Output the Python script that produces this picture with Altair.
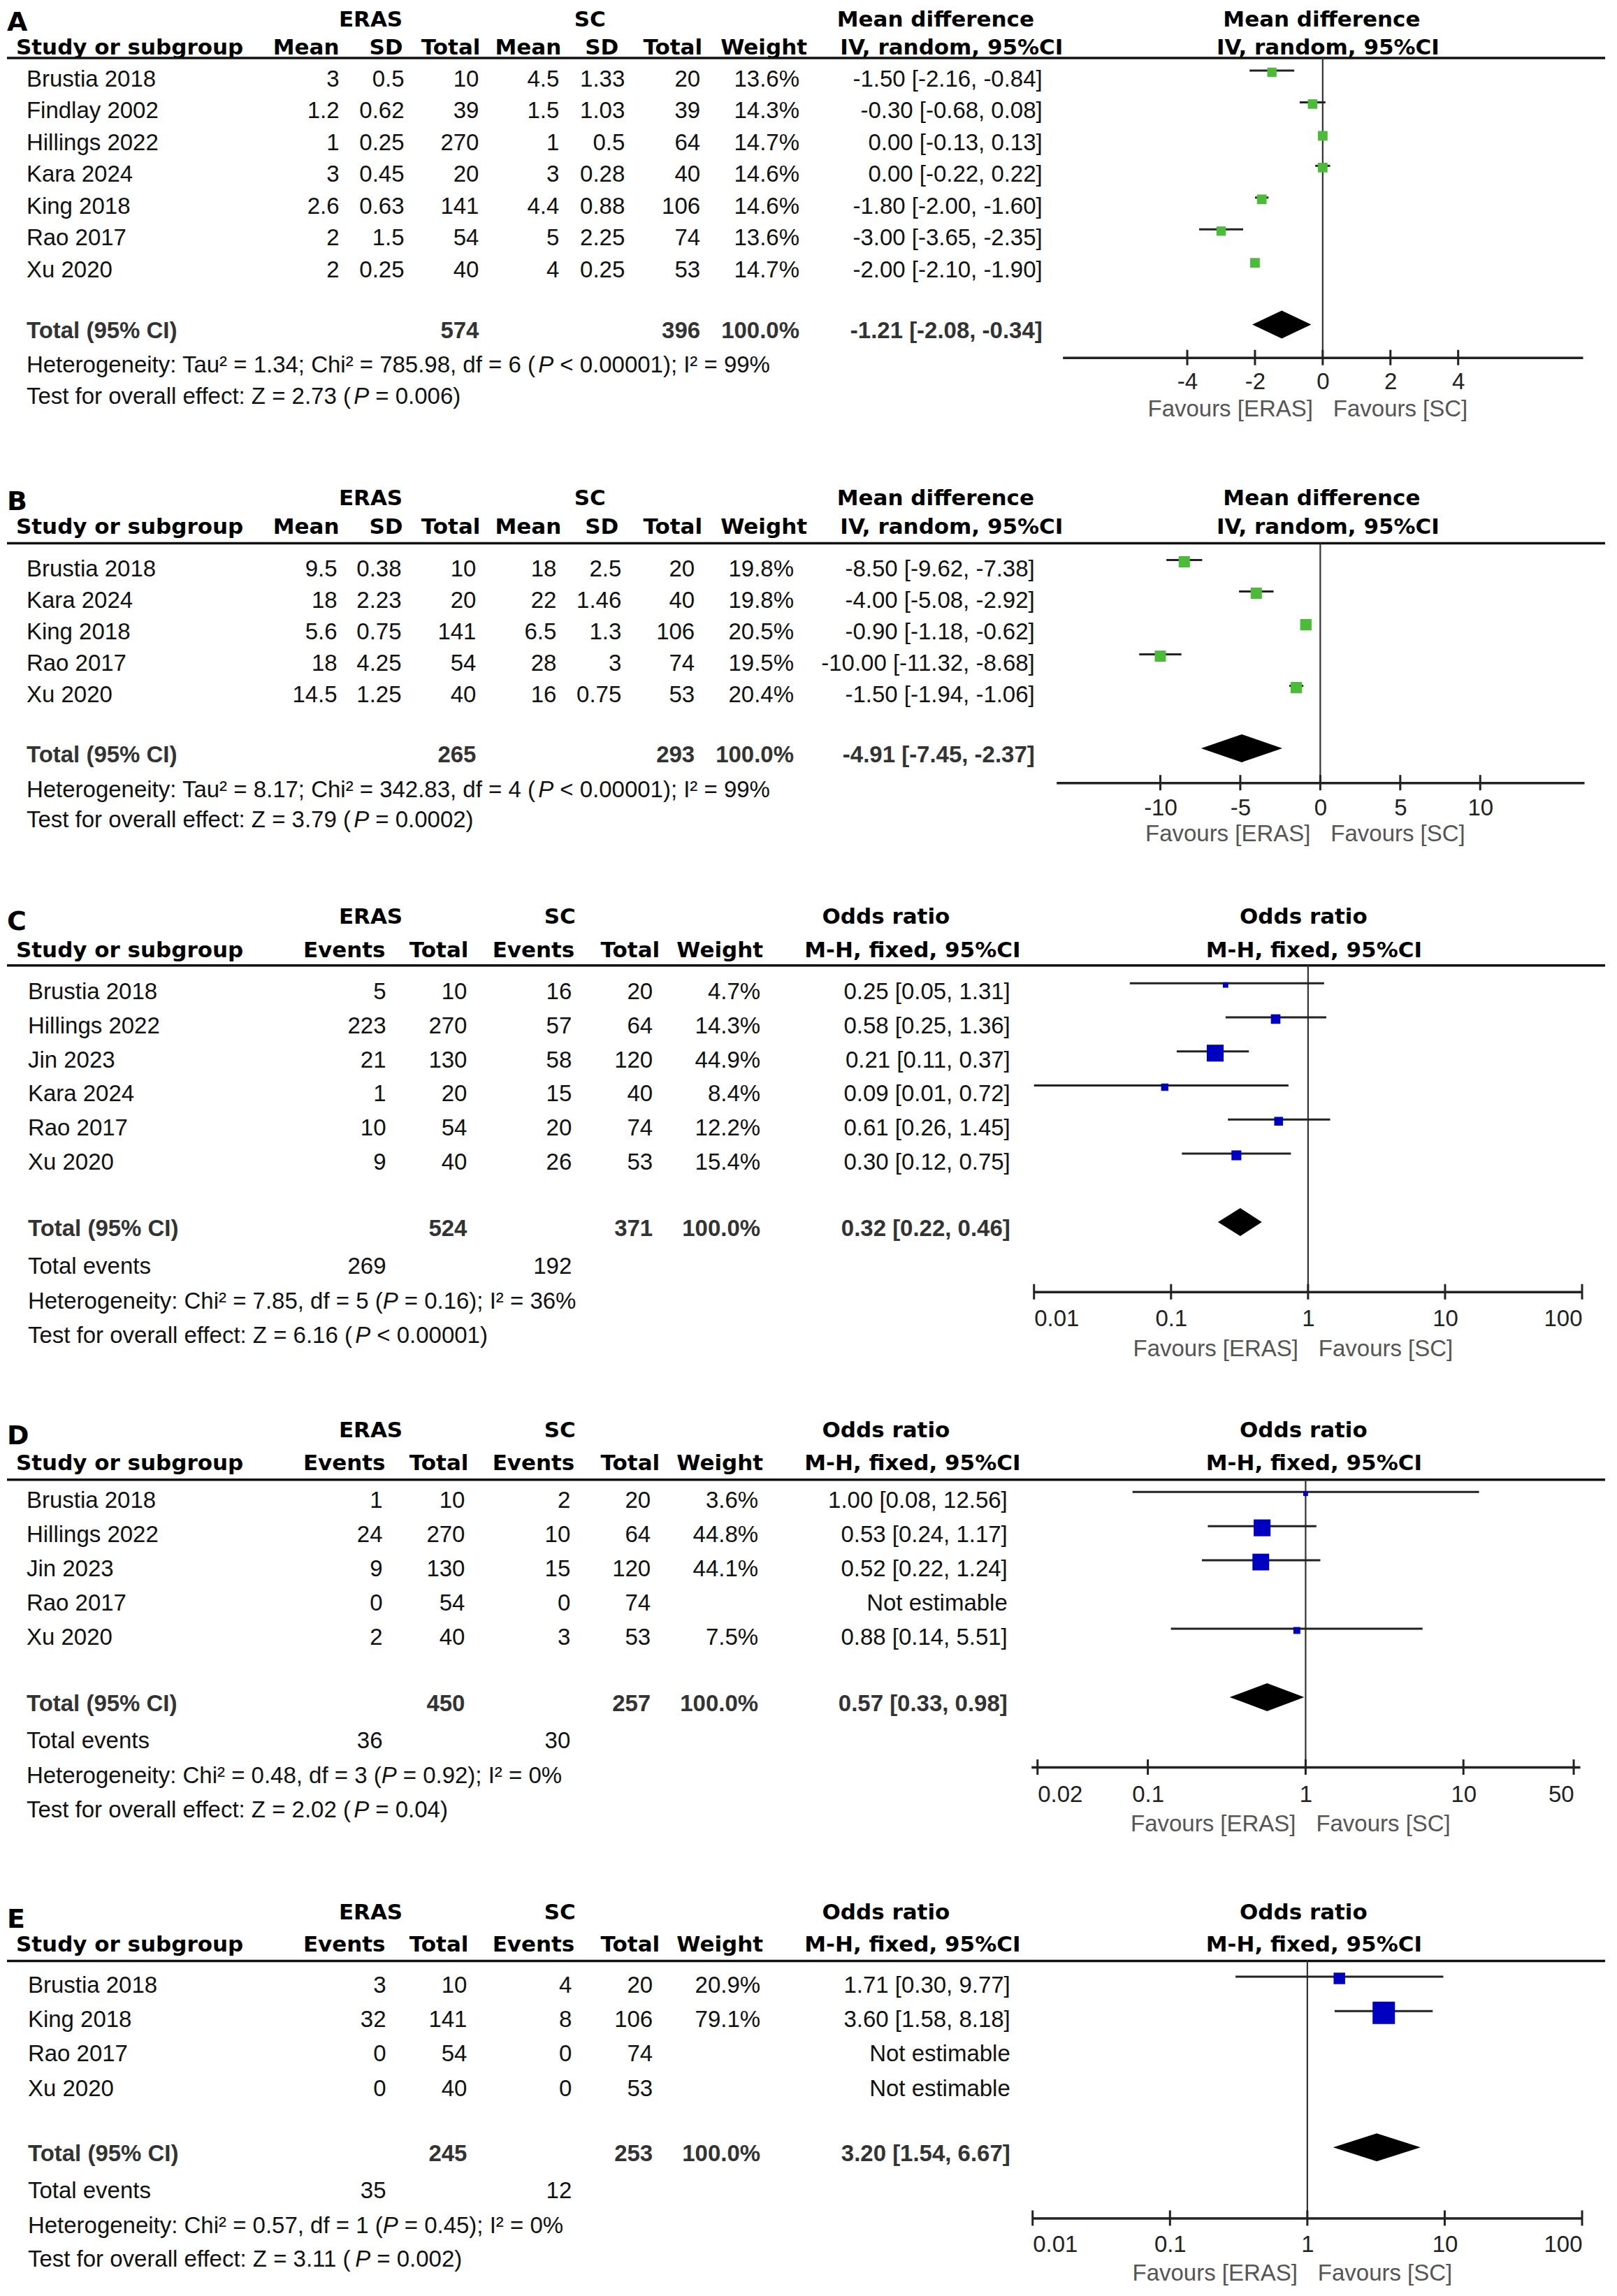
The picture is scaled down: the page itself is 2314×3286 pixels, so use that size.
import altair as alt
import pandas as pd

# ======================= DATA =======================
# ---- A: mean difference ----
A_study = ["Brustia 2018", "Findlay 2002", "Hillings 2022", "Kara 2024", "King 2018", "Rao 2017", "Xu 2020"]
A_eras_mean = [3, 1.2, 1, 3, 2.6, 2, 2]
A_eras_sd = [0.5, 0.62, 0.25, 0.45, 0.63, 1.5, 0.25]
A_eras_n = [10, 39, 270, 20, 141, 54, 40]
A_sc_mean = [4.5, 1.5, 1, 3, 4.4, 5, 4]
A_sc_sd = [1.33, 1.03, 0.5, 0.28, 0.88, 2.25, 0.25]
A_sc_n = [20, 39, 64, 40, 106, 74, 53]
A_weight = [13.6, 14.3, 14.7, 14.6, 14.6, 13.6, 14.7]
A_est = [-1.50, -0.30, 0.00, 0.00, -1.80, -3.00, -2.00]
A_lo = [-2.16, -0.68, -0.13, -0.22, -2.00, -3.65, -2.10]
A_hi = [-0.84, 0.08, 0.13, 0.22, -1.60, -2.35, -1.90]
A_totals = [574, 396]
A_pooled = [-1.21, -2.08, -0.34]
A_het = "Heterogeneity: Tau² = 1.34; Chi² = 785.98, df = 6 (P < 0.00001); I² = 99%"
A_test = "Test for overall effect: Z = 2.73 (P = 0.006)"
A_ticks = [-4, -2, 0, 2, 4]

# ---- B: mean difference ----
B_study = ["Brustia 2018", "Kara 2024", "King 2018", "Rao 2017", "Xu 2020"]
B_eras_mean = [9.5, 18, 5.6, 18, 14.5]
B_eras_sd = [0.38, 2.23, 0.75, 4.25, 1.25]
B_eras_n = [10, 20, 141, 54, 40]
B_sc_mean = [18, 22, 6.5, 28, 16]
B_sc_sd = [2.5, 1.46, 1.3, 3, 0.75]
B_sc_n = [20, 40, 106, 74, 53]
B_weight = [19.8, 19.8, 20.5, 19.5, 20.4]
B_est = [-8.50, -4.00, -0.90, -10.00, -1.50]
B_lo = [-9.62, -5.08, -1.18, -11.32, -1.94]
B_hi = [-7.38, -2.92, -0.62, -8.68, -1.06]
B_totals = [265, 293]
B_pooled = [-4.91, -7.45, -2.37]
B_het = "Heterogeneity: Tau² = 8.17; Chi² = 342.83, df = 4 (P < 0.00001); I² = 99%"
B_test = "Test for overall effect: Z = 3.79 (P = 0.0002)"
B_ticks = [-10, -5, 0, 5, 10]

# ---- C: odds ratio ----
C_study = ["Brustia 2018", "Hillings 2022", "Jin 2023", "Kara 2024", "Rao 2017", "Xu 2020"]
C_eras_ev = [5, 223, 21, 1, 10, 9]
C_eras_n = [10, 270, 130, 20, 54, 40]
C_sc_ev = [16, 57, 58, 15, 20, 26]
C_sc_n = [20, 64, 120, 40, 74, 53]
C_weight = [4.7, 14.3, 44.9, 8.4, 12.2, 15.4]
C_est = [0.25, 0.58, 0.21, 0.09, 0.61, 0.30]
C_lo = [0.05, 0.25, 0.11, 0.01, 0.26, 0.12]
C_hi = [1.31, 1.36, 0.37, 0.72, 1.45, 0.75]
C_totals = [524, 371]
C_events = [269, 192]
C_pooled = [0.32, 0.22, 0.46]
C_het = "Heterogeneity: Chi² = 7.85, df = 5 (P = 0.16); I² = 36%"
C_test = "Test for overall effect: Z = 6.16 (P < 0.00001)"
C_ticks = [0.01, 0.1, 1, 10, 100]

# ---- D: odds ratio ----
D_study = ["Brustia 2018", "Hillings 2022", "Jin 2023", "Rao 2017", "Xu 2020"]
D_eras_ev = [1, 24, 9, 0, 2]
D_eras_n = [10, 270, 130, 54, 40]
D_sc_ev = [2, 10, 15, 0, 3]
D_sc_n = [20, 64, 120, 74, 53]
D_weight = [3.6, 44.8, 44.1, None, 7.5]
D_est = [1.00, 0.53, 0.52, None, 0.88]
D_lo = [0.08, 0.24, 0.22, None, 0.14]
D_hi = [12.56, 1.17, 1.24, None, 5.51]
D_totals = [450, 257]
D_events = [36, 30]
D_pooled = [0.57, 0.33, 0.98]
D_het = "Heterogeneity: Chi² = 0.48, df = 3 (P = 0.92); I² = 0%"
D_test = "Test for overall effect: Z = 2.02 (P = 0.04)"
D_ticks = [0.02, 0.1, 1, 10, 50]

# ---- E: odds ratio ----
E_study = ["Brustia 2018", "King 2018", "Rao 2017", "Xu 2020"]
E_eras_ev = [3, 32, 0, 0]
E_eras_n = [10, 141, 54, 40]
E_sc_ev = [4, 8, 0, 0]
E_sc_n = [20, 106, 74, 53]
E_weight = [20.9, 79.1, None, None]
E_est = [1.71, 3.60, None, None]
E_lo = [0.30, 1.58, None, None]
E_hi = [9.77, 8.18, None, None]
E_totals = [245, 253]
E_events = [35, 12]
E_pooled = [3.20, 1.54, 6.67]
E_het = "Heterogeneity: Chi² = 0.57, df = 1 (P = 0.45); I² = 0%"
E_test = "Test for overall effect: Z = 3.11 (P = 0.002)"
E_ticks = [0.01, 0.1, 1, 10, 100]

# ======================= STYLE =======================
BODY = "Liberation Sans"
HEAD = "DejaVu Sans"
FS = 33
HFS = 31
LFS = 38
INK = "#111111"
TOT_INK = "#333333"
FAV_INK = "#555555"
GREEN = "#4dbb3a"
BLUE = "#0000c0"
W = 2298

_W = {" ": 278, "(": 333, ")": 333, ",": 278, "-": 333, ".": 278, ":": 278, ";": 278,
      "<": 584, "=": 584, ">": 584, "%": 889, "²": 333, "[": 278, "]": 278}
for _d in "0123456789":
    _W[_d] = 556
_W.update(dict(zip("ABCDEFGHIJKLMNOPQRSTUVWXYZ",
                   [667, 667, 722, 722, 667, 611, 778, 722, 278, 500, 667, 556, 833, 722, 778, 667,
                    778, 722, 667, 611, 722, 667, 944, 667, 667, 611])))
_W.update(dict(zip("abcdefghijklmnopqrstuvwxyz",
                   [556, 556, 500, 556, 556, 278, 556, 556, 222, 222, 500, 222, 833, 556, 556, 556,
                    556, 333, 500, 278, 556, 500, 722, 500, 500, 500])))


def tw(s, size=FS):
    return sum(_W.get(c, 556) for c in s) * size / 1000.0


def g(v):
    return "" if v is None else f"{v:g}"


def wfmt(v):
    return "" if v is None else f"{v:.1f}%"


def cifmt(e, l, h):
    if e is None:
        return "Not estimable"
    return f"{e:.2f} [{l:.2f}, {h:.2f}]"


# layout (chart pixels; rows in row units)
LAYOUT = {
    "A": dict(top=8, h=632, row0=112.6, pitch=45.5,
              u=dict(letter=-1.79, h1=-1.86, h2=-0.98, line=-0.68, total=7.93, het=9.0, test=9.99,
                     axis=8.75, fav=10.38),
              label_x=28, head_x=[476, 567, 678, 794, 876, 996, 1146],
              data_x=[476, 569, 676, 791, 885, 993, 1135], ci_x=1483, eras_c=521, sc_c=835,
              fh1=(1330, 1883), fh2=(1353, 1892), stype="linear", domain=[-7.68, 7.68],
              rng=[1512, 2257], ref=0, lab_pad=19, flush=True, k=13, color=GREEN),
    "B": dict(top=640, h=630, row0=813.8, pitch=45.05,
              u=dict(letter=-2.12, h1=-2.24, h2=-1.33, line=-0.82, total=5.92, het=7.03, test=7.98,
                     axis=6.79, fav=8.42),
              label_x=28, head_x=[476, 567, 678, 794, 876, 996, 1146],
              data_x=[473, 565, 672, 787, 880, 985, 1127], ci_x=1472, eras_c=521, sc_c=835,
              fh1=(1330, 1883), fh2=(1353, 1892), stype="linear", domain=[-16.5, 16.5],
              rng=[1503, 2259], ref=0, lab_pad=20, flush=True, k=12.5, color=GREEN),
    "C": dict(top=1270, h=730, row0=1420, pitch=48.8,
              u=dict(letter=-2.05, h1=-2.20, h2=-1.22, line=-0.79, total=6.95, events=8.05, het=9.08,
                     test=10.08, axis=8.79, fav=10.47),
              label_x=30, head_x=[542, 661, 813, 935, 1083],
              data_x=[543, 659, 809, 925, 1079], ci_x=1437, eras_c=521, sc_c=792,
              fh1=(1259, 1857), fh2=(1297, 1872), stype="log", domain=[0.01, 100],
              rng=[1471, 2256], ref=1, lab_pad=23, flush=True, k=18, color=BLUE),
    "D": dict(top=2000, h=700, row0=2148.6, pitch=49.0,
              u=dict(letter=-1.89, h1=-2.04, h2=-1.08, line=-0.62, total=5.94, events=7.02, het=8.04,
                     test=9.04, axis=7.78, fav=9.46),
              label_x=28, head_x=[542, 661, 813, 935, 1083],
              data_x=[538, 656, 807, 922, 1076], ci_x=1433, eras_c=521, sc_c=792,
              fh1=(1259, 1857), fh2=(1297, 1872), stype="log", domain=[0.01824, 54.8],
              rng=[1467, 2253], ref=1, lab_pad=23, flush=12, k=17.5, color=BLUE),
    "E": dict(top=2700, h=570, row0=2843, pitch=49.3,
              u=dict(letter=-1.91, h1=-2.12, h2=-1.17, line=-0.72, total=4.90, events=5.96, het=6.99,
                     test=7.96, axis=6.75, fav=8.37),
              label_x=30, head_x=[542, 661, 813, 935, 1083],
              data_x=[543, 659, 809, 925, 1079], ci_x=1437, eras_c=521, sc_c=792,
              fh1=(1259, 1857), fh2=(1297, 1872), stype="log", domain=[0.01, 100],
              rng=[1469, 2256], ref=1, lab_pad=22, flush=True, k=24, color=BLUE),
}

PANELS = [
    dict(key="A", kind="md", study=A_study,
         cols=[A_eras_mean, A_eras_sd, A_eras_n, A_sc_mean, A_sc_sd, A_sc_n], weight=A_weight,
         est=A_est, lo=A_lo, hi=A_hi, totals=A_totals, pooled=A_pooled, het=A_het, test=A_test,
         ticks=A_ticks),
    dict(key="B", kind="md", study=B_study,
         cols=[B_eras_mean, B_eras_sd, B_eras_n, B_sc_mean, B_sc_sd, B_sc_n], weight=B_weight,
         est=B_est, lo=B_lo, hi=B_hi, totals=B_totals, pooled=B_pooled, het=B_het, test=B_test,
         ticks=B_ticks),
    dict(key="C", kind="or", study=C_study, cols=[C_eras_ev, C_eras_n, C_sc_ev, C_sc_n],
         weight=C_weight, est=C_est, lo=C_lo, hi=C_hi, totals=C_totals, events=C_events,
         pooled=C_pooled, het=C_het, test=C_test, ticks=C_ticks),
    dict(key="D", kind="or", study=D_study, cols=[D_eras_ev, D_eras_n, D_sc_ev, D_sc_n],
         weight=D_weight, est=D_est, lo=D_lo, hi=D_hi, totals=D_totals, events=D_events,
         pooled=D_pooled, het=D_het, test=D_test, ticks=D_ticks),
    dict(key="E", kind="or", study=E_study, cols=[E_eras_ev, E_eras_n, E_sc_ev, E_sc_n],
         weight=E_weight, est=E_est, lo=E_lo, hi=E_hi, totals=E_totals, events=E_events,
         pooled=E_pooled, het=E_het, test=E_test, ticks=E_ticks),
]


def build_panel(P):
    L = LAYOUT[P["key"]]
    top, h, row0, pitch = L["top"], L["h"], L["row0"], L["pitch"]
    U = L["u"]
    ysc = alt.Scale(domain=[(top - row0) / pitch, (top + h - row0) / pitch], reverse=True,
                    zero=False, nice=False)

    def Y(f="y"):
        return alt.Y(f + ":Q", scale=ysc, axis=None)

    layers = []

    def T(rows, x, align, **kw):
        df = pd.DataFrame(rows, columns=["y", "t"])
        props = dict(align=align, baseline="middle", font=BODY, fontSize=FS, color=INK)
        props.update(kw)
        layers.append(alt.Chart(df).mark_text(**props).encode(
            x=alt.value(x), y=Y(), text="t:N"))

    hb = dict(font=HEAD, fontSize=HFS, fontWeight="bold", color="#000000")
    md = P["kind"] == "md"

    # letter + headers
    T([(U["letter"], P["key"])], 0, "left", font=HEAD, fontSize=LFS, fontWeight="bold", color="#000000")
    T([(U["h1"], "ERAS")], L["eras_c"], "center", **hb)
    T([(U["h1"], "SC")], L["sc_c"], "center", **hb)
    h1txt = "Mean difference" if md else "Odds ratio"
    h2txt = "IV, random, 95%CI" if md else "M-H, fixed, 95%CI"
    for xc in L["fh1"]:
        T([(U["h1"], h1txt)], xc, "center", **hb)
    for xc in L["fh2"]:
        T([(U["h2"], h2txt)], xc, "center", **hb)
    T([(U["h2"], "Study or subgroup")], 13, "left", **hb)
    heads = ["Mean", "SD", "Total", "Mean", "SD", "Total", "Weight"] if md else \
        ["Events", "Total", "Events", "Total", "Weight"]
    for name, xr in zip(heads, L["head_x"]):
        T([(U["h2"], name)], xr, "right", **hb)

    # header rule
    layers.append(alt.Chart(pd.DataFrame({"y": [U["line"]]})).mark_rule(
        color="#111111", strokeWidth=3.5).encode(x=alt.value(0), x2=alt.value(2289), y=Y()))

    # study rows
    T([(i, s) for i, s in enumerate(P["study"])], L["label_x"], "left")
    for col, xr in zip(P["cols"], L["data_x"]):
        T([(i, g(v)) for i, v in enumerate(col)], xr, "right")
    T([(i, wfmt(v)) for i, v in enumerate(P["weight"])], L["data_x"][-1], "right")
    T([(i, cifmt(e, l, hh)) for i, (e, l, hh) in enumerate(zip(P["est"], P["lo"], P["hi"]))],
      L["ci_x"], "right")

    # total row
    tb = dict(fontWeight="bold", color=TOT_INK)
    T([(U["total"], "Total (95% CI)")], L["label_x"], "left", **tb)
    tcol = [2, 5] if md else [1, 3]
    for v, ci in zip(P["totals"], tcol):
        T([(U["total"], str(v))], L["data_x"][ci], "right", **tb)
    T([(U["total"], "100.0%")], L["data_x"][-1], "right", **tb)
    T([(U["total"], cifmt(*P["pooled"]))], L["ci_x"], "right", **tb)

    if not md:
        T([(U["events"], "Total events")], L["label_x"], "left")
        for v, ci in zip(P["events"], [0, 2]):
            T([(U["events"], str(v))], L["data_x"][ci], "right")

    # heterogeneity / overall effect with italic P
    for s, key in ((P["het"], "het"), (P["test"], "test")):
        pre, post = s.split("(P", 1)
        pre += "("
        x0 = L["label_x"]
        T([(U[key], pre)], x0, "left")
        T([(U[key], "P")], x0 + tw(pre), "left", fontStyle="italic")
        T([(U[key], post.lstrip(" "))], x0 + tw(pre) + tw("P") + tw(" "), "left")

    # ---------- forest plot ----------
    xsc = alt.Scale(type=L["stype"], domain=L["domain"], range=L["rng"], nice=False, zero=False)
    axis_local = row0 - top + U["axis"] * pitch
    xax = alt.Axis(orient="bottom", offset=-(h - axis_local), values=P["ticks"],
                   labelExpr="datum.value + ''", ticks=False, tickSize=0, domain=True,
                   domainColor="#222222", domainWidth=3.5, grid=False, labelFont=BODY,
                   labelFontSize=FS, labelColor="#222222", labelPadding=L["lab_pad"],
                   labelFlush=L["flush"])

    def X(f="x"):
        return alt.X(f + ":Q", scale=xsc, axis=xax, title=None)

    line_off = -13.0 / pitch
    sq_off = -10.5 / pitch
    dia_off = -10.0 / pitch
    dia_h = 20.0 / pitch
    tick_h = 11.0 / pitch

    # reference line
    layers.append(alt.Chart(pd.DataFrame({"x": [L["ref"]], "y": [U["line"]], "y2": [U["axis"]]}))
                  .mark_rule(color="#333333", strokeWidth=2.2)
                  .encode(x=X(), y=Y(), y2="y2:Q"))

    # axis ticks crossing the axis line
    layers.append(alt.Chart(pd.DataFrame({"x": P["ticks"],
                                          "y": [U["axis"] - tick_h] * len(P["ticks"]),
                                          "y2": [U["axis"] + tick_h] * len(P["ticks"])}))
                  .mark_rule(color="#222222", strokeWidth=3)
                  .encode(x=X(), y=Y(), y2="y2:Q"))

    rows = [(i, e, l, hh, w) for i, (e, l, hh, w) in
            enumerate(zip(P["est"], P["lo"], P["hi"], P["weight"])) if e is not None]
    ci_df = pd.DataFrame({"x": [r[2] for r in rows], "x2": [r[3] for r in rows],
                          "y": [r[0] + line_off for r in rows]})
    layers.append(alt.Chart(ci_df).mark_rule(color="#222222", strokeWidth=3)
                  .encode(x=X(), x2="x2:Q", y=Y()))
    sq_df = pd.DataFrame({"x": [r[1] for r in rows], "y": [r[0] + sq_off for r in rows],
                          "w": [r[4] for r in rows]})
    layers.append(alt.Chart(sq_df).mark_square(color=L["color"], opacity=1, strokeWidth=0)
                  .encode(x=X(), y=Y(),
                          size=alt.Size("w:Q", scale=alt.Scale(domain=[0, 100],
                                                               range=[0, L["k"] * 100]),
                                        legend=None)))

    # pooled diamond
    e, l, hh = P["pooled"]
    yc = U["total"] + dia_off
    dia_df = pd.DataFrame({"x": [l, e, hh], "y": [yc, yc - dia_h, yc], "y2": [yc, yc + dia_h, yc]})
    layers.append(alt.Chart(dia_df).mark_area(color="#000000", orient="vertical", opacity=1)
                  .encode(x=X(), y=Y(), y2="y2:Q"))

    # favours labels
    fav = pd.DataFrame({"x": [L["ref"]], "y": [U["fav"]]})
    layers.append(alt.Chart(fav.assign(t="Favours [ERAS]")).mark_text(
        align="right", baseline="middle", font=BODY, fontSize=FS, color=FAV_INK, dx=-14)
        .encode(x=X(), y=Y(), text="t:N"))
    layers.append(alt.Chart(fav.assign(t="Favours [SC]")).mark_text(
        align="left", baseline="middle", font=BODY, fontSize=FS, color=FAV_INK, dx=15)
        .encode(x=X(), y=Y(), text="t:N"))

    return alt.layer(*layers).properties(width=W, height=h)


panels = [build_panel(P) for P in PANELS]
chart = alt.vconcat(*panels, spacing=0).configure_view(stroke=None).properties(
    padding=0, background="white")

chart.save("out.html", embed_options={"renderer": "svg", "actions": False})
